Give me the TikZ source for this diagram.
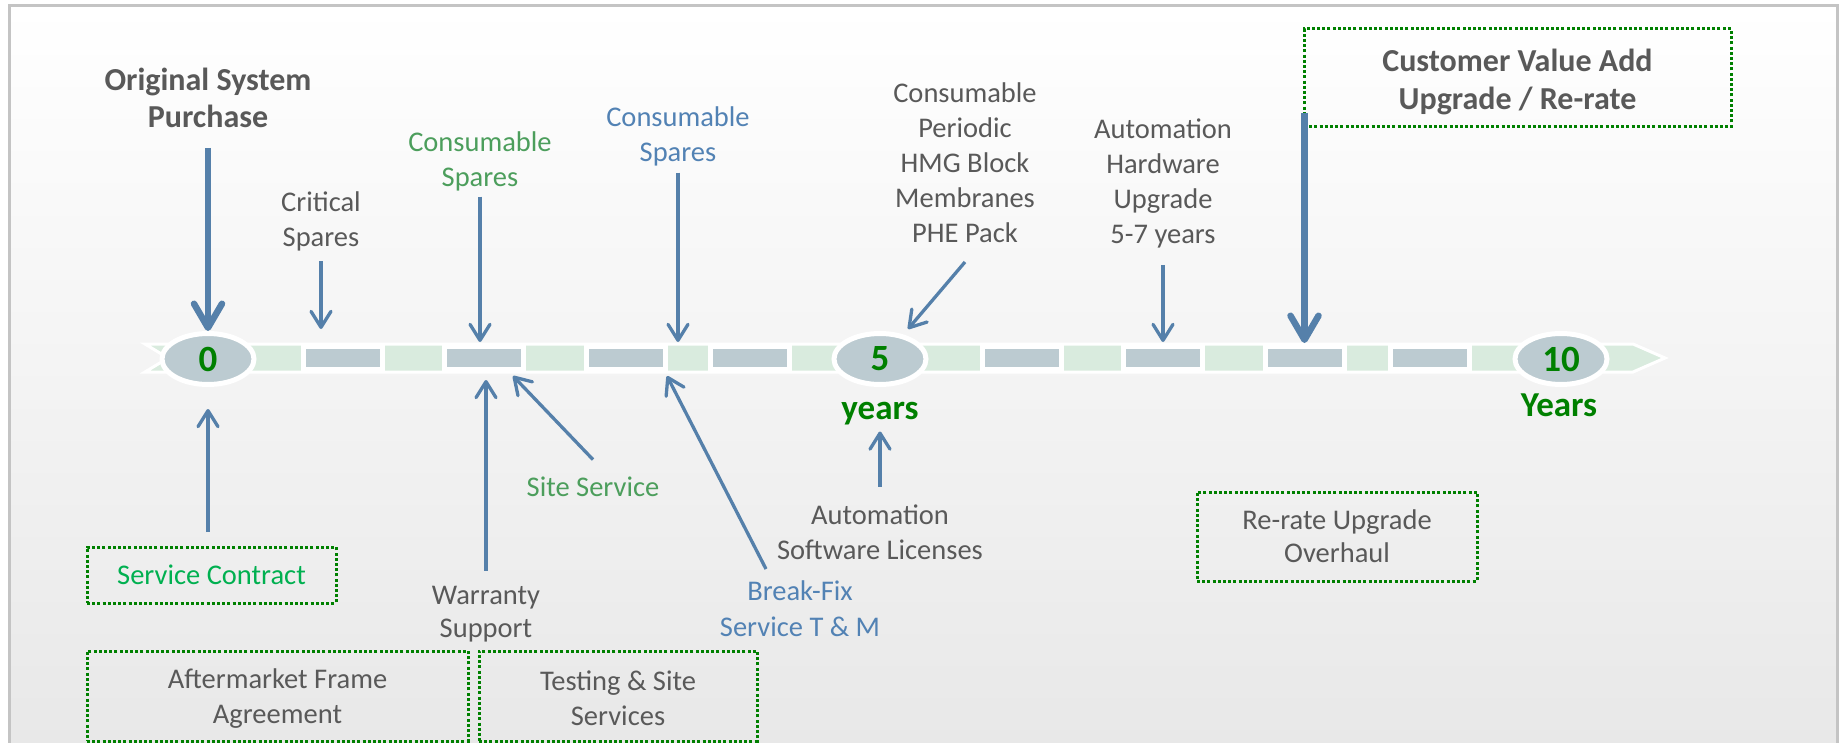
\documentclass[tikz,border=0pt]{standalone}
\usepackage{fontspec}
\setmainfont{Carlito}
\usetikzlibrary{arrows.meta,shapes.geometric}

\definecolor{textgray}{HTML}{595959}
\definecolor{arrowblue}{RGB}{85,128,170}
\definecolor{bluetext}{RGB}{82,130,180}
\definecolor{softgreen}{RGB}{76,158,92}
\definecolor{brightgreen}{HTML}{00B050}
\definecolor{numgreen}{HTML}{008000}
\definecolor{boxgreen}{HTML}{008000}
\definecolor{bandgreen}{RGB}{217,235,222}
\definecolor{segdark}{RGB}{188,203,209}
\definecolor{framegray}{HTML}{C4C4C4}
\definecolor{bgbottom}{HTML}{E8E8E8}

\begin{document}
\begin{tikzpicture}[x=1pt,y=-1pt,
  lbl/.style={align=center,inner sep=0pt,outer sep=0pt,text=textgray,
    font=\fontsize{28.5}{35}\selectfont},
  head/.style={lbl,font=\fontsize{32}{37}\selectfont\bfseries},
  dbox/.style={draw=boxgreen,line width=3pt,dash pattern=on 3pt off 2.2pt,
    align=center,inner sep=0pt,outer sep=0pt,text=textgray,
    font=\fontsize{28.5}{35}\selectfont},
  seg/.style={rectangle,fill=segdark,draw=white,line width=5pt,
    minimum width=79pt,minimum height=23pt,inner sep=0pt,outer sep=0pt},
  stop/.style={ellipse,fill=segdark,draw=white,line width=5pt,
    minimum width=92pt,minimum height=51pt,inner sep=0pt,outer sep=0pt,
    text=numgreen,font=\fontsize{37}{40}\selectfont\bfseries},
  yearlbl/.style={inner sep=0pt,outer sep=0pt,anchor=base,text=numgreen,
    font=\fontsize{35}{40}\selectfont\bfseries},
  conn/.style={draw=arrowblue,line width=3.3pt,
    -{Straight Barb[length=16pt,width=20pt,round]}},
  bigconn/.style={draw=arrowblue,line width=6.5pt,
    -{Straight Barb[length=24pt,width=28pt,round]}}]

\useasboundingbox (0,0) rectangle (1841,743);

% panel background and frame
\shade[top color=white,bottom color=bgbottom] (9,6) rectangle (1837,746);
\draw[framegray,line width=3pt] (9,746) -- (9,6) -- (1837,6) -- (1837,746);

% timeline band
\draw[white,line width=3pt,fill=bandgreen]
  (145,344) -- (1633,344) -- (1665,358) -- (1633,372) -- (145,372) -- (168,358) -- cycle;

% darker interval blocks
\foreach \n/\x in {1/343,2/483.5,3/626,4/750,5/1021.5,6/1163,7/1304.5,8/1429.5}
  \node[seg] (d\n) at (\x,358) {};

% milestones
\node[stop] (e0) at (208,359) {0};
\node[stop] (e5) at (880,359) {5};
\node[stop] (e10) at (1561,359) {10};
\node[yearlbl] (yrs) at (880,419) {years};
\node[yearlbl] (Yrs) at (1559,416) {Years};

% labels above the band
\node[head] (osp) at (208,98) {Original System\\Purchase};
\node[lbl] (crit) at (321,221.4) {Critical\\Spares};
\node[lbl,text=softgreen] (cons1) at (480,161.9) {Consumable\\Spares};
\node[lbl,text=bluetext] (cons2) at (678,136.9) {Consumable\\Spares};
\node[lbl] (cpp) at (965,162.5) {Consumable\\Periodic\\HMG Block\\Membranes\\PHE Pack};
\node[lbl] (ahu) at (1163,183.3) {Automation\\Hardware\\Upgrade\\5-7 years};
\node[dbox,font=\fontsize{32}{38}\selectfont\bfseries,
  minimum width=427pt,minimum height=98pt] (cva) at (1517.5,78)
  {\rule{0pt}{31pt}Customer Value Add\\Upgrade / Re-rate};

% labels below the band
\node[dbox,text=brightgreen,minimum width=249pt,minimum height=56pt] (sc) at (211.5,575) {Service Contract};
\node[lbl,font=\fontsize{28.5}{33}\selectfont] (ws) at (486,614.5) {Warranty\\Support};
\node[lbl,text=softgreen] (ss) at (593,487) {Site Service};
\node[lbl,text=bluetext,font=\fontsize{28.5}{36}\selectfont] (bf) at (800,608.5) {Break-Fix\\Service T \& M};
\node[lbl] (asl) at (880,532.5) {Automation\\Software Licenses};
\node[dbox,font=\fontsize{28.5}{33}\selectfont,minimum width=280pt,minimum height=89pt] (rr) at (1337,536.5) {Re-rate Upgrade\\Overhaul};
\node[dbox,minimum width=381pt,minimum height=90pt] (am) at (277.5,696) {\rule{0pt}{25pt}Aftermarket Frame\\Agreement};
\node[dbox,minimum width=278pt,minimum height=90pt] (ts) at (618,696) {\rule{0pt}{25pt}Testing \& Site\\Services};

% arrow targets on the band
\coordinate (tCrit) at (321,329);
\coordinate (tCons1) at (480,342);
\coordinate (tCons2) at (678,342);
\coordinate (tCpp) at (908,329);
\coordinate (tAhu) at (1163,342);
\coordinate (tCva) at (1304.5,343);
\coordinate (tWs) at (486,380);
\coordinate (tSs) at (513,376);
\coordinate (tBf) at (667,376);

% connectors from above
\draw[bigconn,shorten <=20pt,shorten >=2.5pt] (e0.north |- osp.south) -- (e0.north);
\draw[conn,shorten <=10pt] (tCrit |- crit.south) -- (tCrit);
\draw[conn,shorten <=5pt] (tCons1 |- cons1.south) -- (tCons1);
\draw[conn,shorten <=6pt] (tCons2 |- cons2.south) -- (tCons2);
\draw[conn] ([yshift=-19.5pt]cpp.south) -- (tCpp);
\draw[conn,shorten <=17pt] (tAhu |- ahu.south) -- (tAhu);
\draw[bigconn,shorten <=-14pt] (tCva |- cva.south) -- (tCva);

% connectors from below
\draw[conn,shorten <=15pt,shorten >=24.5pt] (e0.south |- sc.north) -- (e0.south);
\draw[conn,shorten <=16pt] (tWs |- ws.north) -- (tWs);
\draw[conn] ([yshift=17.5pt]ss.north) -- (tSs);
\draw[conn] ([xshift=-34pt,yshift=11.5pt]bf.north) -- (tBf);
\draw[conn,shorten <=18.5pt,shorten >=7pt] (yrs.south |- asl.north) -- (yrs.south);

\end{tikzpicture}
\end{document}
